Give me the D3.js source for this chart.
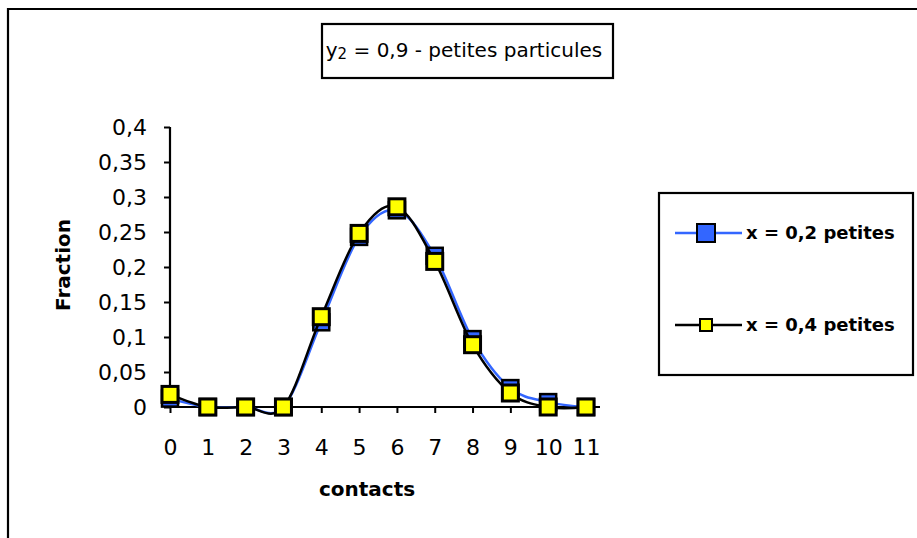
<!DOCTYPE html>
<html><head><meta charset="utf-8">
<script src="https://cdnjs.cloudflare.com/ajax/libs/d3/7.8.5/d3.min.js"></script>
<style>
body{margin:0;background:#fff;}
svg{display:block;}
text{font-family:"DejaVu Sans",sans-serif;fill:#000;}
</style></head>
<body>
<svg id="c" width="917" height="538"></svg>
<script>
const categories = [0,1,2,3,4,5,6,7,8,9,10,11];
const seriesNames = ["x = 0,2 petites", "x = 0,4 petites"];
const series02 = [0.012,0,0,0,0.121,0.243,0.281,0.216,0.097,0.027,0.007,0];
const series04 = [0.018,0,0,0,0.129,0.248,0.286,0.208,0.089,0.020,0,0];
const yTicks = [0,0.05,0.1,0.15,0.2,0.25,0.3,0.35,0.4];
const yTickLabels = ["0","0,05","0,1","0,15","0,2","0,25","0,3","0,35","0,4"];

const svg = d3.select("#c");
const fmt = d => yTickLabels[yTicks.indexOf(d)];

// outer frame
svg.append("path").attr("d","M8,540 L8,9 L920,9").attr("fill","none").attr("stroke","#000").attr("stroke-width",2.2);

const x = d3.scalePoint().domain(categories).range([170,586]);
const y = d3.scaleLinear().domain([0,0.4]).range([407,127]);

// y axis
const gy = svg.append("g").attr("transform","translate(170,0)")
  .call(d3.axisLeft(y).tickValues(yTicks).tickFormat(fmt).tickSize(6).tickPadding(17));
gy.select(".domain").attr("stroke","#000").attr("stroke-width",2.2).attr("d","M0,127V407");
gy.selectAll(".tick line").attr("stroke","#000").attr("stroke-width",2);
gy.selectAll(".tick text").attr("font-size",22).attr("font-family","DejaVu Sans").attr("fill","#000").attr("dy","0.35em");

// x axis
const gx = svg.append("g").attr("transform","translate(0,407)")
  .call(d3.axisBottom(x).tickSize(6).tickPadding(26));
gx.select(".domain").attr("stroke","#000").attr("stroke-width",2.2).attr("d","M170,0H600");
gx.selectAll(".tick line").attr("stroke","#000").attr("stroke-width",2);
gx.selectAll(".tick text").attr("font-size",22).attr("font-family","DejaVu Sans").attr("fill","#000");

// axis titles
svg.append("text").attr("x",367).attr("y",496).attr("text-anchor","middle")
  .attr("font-size",20).attr("font-weight","bold").text("contacts");
svg.append("text").attr("transform","translate(70,265) rotate(-90)").attr("text-anchor","middle")
  .attr("font-size",20).attr("font-weight","bold").text("Fraction");

// lines
const line = d3.line().x((d,i)=>x(categories[i])).y(d=>y(d)).curve(d3.curveCatmullRom.alpha(0));
const blue = "#3366ff";
svg.append("path").datum(series02).attr("d",line).attr("fill","none").attr("stroke",blue).attr("stroke-width",2.5);
svg.append("g").selectAll("rect").data(series02).join("rect")
  .attr("x",(d,i)=>x(categories[i])-8).attr("y",d=>y(d)-8).attr("width",16).attr("height",16)
  .attr("fill",blue).attr("stroke","#000").attr("stroke-width",2.5);
svg.append("path").datum(series04).attr("d",line).attr("fill","none").attr("stroke","#000").attr("stroke-width",2.5);
svg.append("g").selectAll("rect").data(series04).join("rect")
  .attr("x",(d,i)=>x(categories[i])-8).attr("y",d=>y(d)-8).attr("width",16).attr("height",16)
  .attr("fill","#ffff00").attr("stroke","#000").attr("stroke-width",3);

// title box
svg.append("rect").attr("x",322).attr("y",24).attr("width",291).attr("height",54)
  .attr("fill","#fff").attr("stroke","#000").attr("stroke-width",2.2);
const t = svg.append("text").attr("x",464).attr("y",57).attr("text-anchor","middle").attr("font-size",20);
t.append("tspan").text("y");
t.append("tspan").attr("font-size",15).attr("dy",2).text("2");
t.append("tspan").attr("dy",-2).text(" = 0,9 - petites particules");

// legend
svg.append("rect").attr("x",659).attr("y",193).attr("width",254).attr("height",182)
  .attr("fill","#fff").attr("stroke","#000").attr("stroke-width",2.2);
const legY = [233,325];
svg.append("line").attr("x1",675).attr("x2",742).attr("y1",legY[0]).attr("y2",legY[0]).attr("stroke",blue).attr("stroke-width",2.5);
svg.append("rect").attr("x",697).attr("y",legY[0]-9).attr("width",18).attr("height",18).attr("fill",blue).attr("stroke","#000").attr("stroke-width",2);
svg.append("line").attr("x1",675).attr("x2",742).attr("y1",legY[1]).attr("y2",legY[1]).attr("stroke","#000").attr("stroke-width",2.5);
svg.append("rect").attr("x",700).attr("y",legY[1]-6).attr("width",12).attr("height",12).attr("fill","#ffff00").attr("stroke","#000").attr("stroke-width",2);
seriesNames.forEach((n,i)=>{
  svg.append("text").attr("x",746).attr("y",legY[i]).attr("dy","0.35em")
    .attr("font-size",18).attr("font-weight","bold").text(n);
});
</script>
</body></html>
